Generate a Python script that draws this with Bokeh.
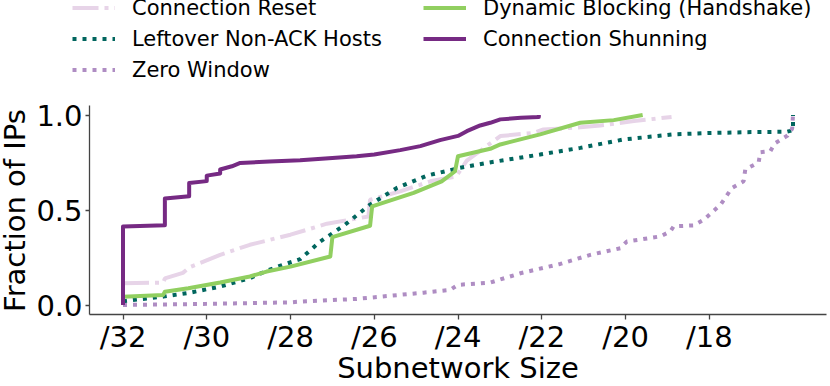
import math
from bokeh.plotting import figure
from bokeh.layouts import column, row
from bokeh.models import Range1d, FixedTicker, Legend, LegendItem, NumeralTickFormatter, Label
from bokeh.embed import file_html
from bokeh.resources import INLINE

# ---- data (x = prefix length, y = cumulative fraction of IPs) ----
reset_x = [32, 31.04, 31.0, 30.57, 30.4, 29.68, 28.97, 28.0, 27.13, 26.14, 26.1, 25.38, 24.66,
           24.35, 24.05, 23.79, 22.99, 22.2, 21.96, 21.08, 20.6, 19.8, 18.9]
reset_y = [0.115, 0.118, 0.14, 0.169, 0.2, 0.264, 0.317, 0.37, 0.428, 0.466, 0.554, 0.598, 0.651,
           0.665, 0.675, 0.76, 0.889, 0.906, 0.924, 0.935, 0.945, 0.968, 0.99]

nonack_x = [32, 31.04, 30.4, 29.68, 28.97, 28.57, 28.2, 27.77, 27.29, 26.7, 26.1, 25.46, 24.74,
            23.95, 23.31, 22.04, 21.08, 20.05, 18.86, 18.0, 17.0, 16.14, 16.0, 16.0]
nonack_y = [0.02, 0.044, 0.065, 0.097, 0.141, 0.18, 0.21, 0.241, 0.334, 0.422, 0.528, 0.616, 0.681,
            0.722, 0.748, 0.792, 0.827, 0.871, 0.898, 0.905, 0.91, 0.912, 0.92, 1.0]

zero_x = [32, 30.0, 28.0, 27.77, 26.42, 24.82, 24.19, 24.0, 23.23, 22.51, 21.56, 20.84, 20.12,
          19.97, 19.17, 18.93, 18.85, 18.37, 18.13, 17.73, 17.46, 17.18, 17.14, 16.82, 16.78,
          16.54, 16.44, 16.13, 16.02, 16.0]
zero_y = [0.0, 0.006, 0.014, 0.018, 0.032, 0.065, 0.079, 0.106, 0.118, 0.167, 0.216, 0.264, 0.299,
          0.334, 0.361, 0.387, 0.414, 0.419, 0.449, 0.528, 0.616, 0.651, 0.713, 0.751, 0.804,
          0.81, 0.85, 0.892, 0.928, 1.0]

dyn_x = [32, 31.04, 31.0, 30.44, 29.68, 28.97, 28.57, 28.0, 27.05, 27.0, 26.1, 26.05, 25.06,
         24.39, 24.07, 24.0, 23.23, 22.99, 22.04, 21.08, 20.28, 19.59]
dyn_y = [0.044, 0.053, 0.07, 0.088, 0.118, 0.15, 0.176, 0.202, 0.255, 0.357, 0.417, 0.519, 0.59,
         0.651, 0.704, 0.783, 0.822, 0.845, 0.898, 0.959, 0.973, 1.0]

shun_x = [32, 32, 31.0, 31.0, 30.42, 30.42, 30.0, 30.0, 29.68, 29.68, 29.4, 29.2, 28.5, 27.77,
          27.0, 26.42, 26.0, 25.38, 24.9, 24.43, 24.0, 23.79, 23.47, 23.23, 22.99, 22.5, 22.07, 22.07]
shun_y = [0.0, 0.413, 0.42, 0.56, 0.572, 0.642, 0.652, 0.681, 0.692, 0.713, 0.73, 0.748, 0.755,
          0.762, 0.774, 0.783, 0.792, 0.815, 0.836, 0.868, 0.89, 0.915, 0.945, 0.959, 0.977,
          0.985, 0.99, 1.0]

x_ticks = [32, 30, 28, 26, 24, 22, 20, 18]
x_tick_labels = ["/32", "/30", "/28", "/26", "/24", "/22", "/20", "/18"]
y_ticks = [0.0, 0.5, 1.0]

names = ["Connection Reset", "Leftover Non-ACK Hosts", "Zero Window",
         "Dynamic Blocking (Handshake)", "Connection Shunning"]
x_title = "Subnetwork Size"
y_title = "Fraction of IPs"

FONT = "DejaVu Sans"
styles = [
    dict(line_color="#e7d4e8", line_width=4, line_dash="26 6 4 6"),
    dict(line_color="#01665e", line_width=4, line_dash="4 6"),
    dict(line_color="#af8dc3", line_width=4, line_dash="4 6"),
    dict(line_color="#91cf60", line_width=4, line_join="round"),
    dict(line_color="#762a83", line_width=4, line_join="round"),
]
series = [(reset_x, reset_y), (nonack_x, nonack_y), (zero_x, zero_y), (dyn_x, dyn_y), (shun_x, shun_y)]

W, H = 830, 386
LEG_H = 95      # legend strip height
XL_H = 30       # x-title strip height
YL_W = 33       # y-title strip width
MAIN_H = H - LEG_H - XL_H


def blank(width, height):
    f = figure(width=width, height=height, output_backend="svg", toolbar_location=None,
               x_range=Range1d(0, 1), y_range=Range1d(0, 1),
               x_axis_location=None, y_axis_location=None,
               min_border_left=0, min_border_right=0, min_border_top=0, min_border_bottom=0)
    f.frame_align = False
    f.outline_line_color = None
    f.grid.visible = False
    return f


# ---------------- main chart ----------------
p = figure(width=W - YL_W, height=MAIN_H, output_backend="svg", toolbar_location=None,
           x_range=Range1d(32.8, 15.2), y_range=Range1d(-0.05, 1.05),
           min_border_left=89 - YL_W, min_border_right=4, min_border_top=105 - LEG_H,
           min_border_bottom=41)
p.outline_line_color = None
p.grid.visible = False

for (xs, ys), st in zip(series, styles):
    p.line(xs, ys, **st)

for ax in (p.xaxis[0], p.yaxis[0]):
    ax.axis_line_color = "#444444"
    ax.axis_line_width = 1.3
    ax.major_tick_line_color = "#444444"
    ax.major_tick_line_width = 1.3
    ax.major_tick_in = 0
    ax.minor_tick_line_color = None
    ax.major_label_text_font = FONT
    ax.major_label_text_font_size = "29px"
    ax.major_label_text_color = "black"

p.xaxis.ticker = FixedTicker(ticks=x_ticks)
p.xaxis.major_label_overrides = dict(zip(x_ticks, x_tick_labels))
p.xaxis.major_tick_out = 5
p.xaxis.major_label_standoff = 0

p.yaxis.ticker = FixedTicker(ticks=y_ticks)
p.yaxis.formatter = NumeralTickFormatter(format="0.0")
p.yaxis.major_tick_out = 4
p.yaxis.major_label_standoff = 3

# ---------------- y title strip ----------------
yl = blank(YL_W, MAIN_H)
yl.add_layout(Label(x=14, y=MAIN_H - (210 - LEG_H), x_units="screen", y_units="screen",
                    text=y_title, angle=math.pi / 2, text_align="center",
                    text_baseline="alphabetic", text_font=FONT, text_font_size="29px",
                    text_color="black"))

# ---------------- x title strip ----------------
xl = blank(W, XL_H)
xl.add_layout(Label(x=457.5, y=19, x_units="screen", y_units="screen", text=x_title,
                    text_align="center", text_baseline="alphabetic", text_font=FONT,
                    text_font_size="29px", text_color="black"))

# ---------------- legend strip (swatch renderers lie outside its ranges) ----------------
lf = blank(W, LEG_H)
swatches = [lf.line(xs, ys, **st) for (xs, ys), st in zip(series, styles)]


def make_legend(items, loc):
    lg = Legend(items=items, location=loc, orientation="vertical")
    lg.background_fill_alpha = 0
    lg.border_line_color = None
    lg.padding = 0
    lg.margin = 0
    lg.spacing = 6
    lg.glyph_width = 43
    lg.glyph_height = 25
    lg.label_height = 25
    lg.label_standoff = 17
    lg.label_text_font = FONT
    lg.label_text_font_size = "21px"
    lg.label_text_color = "black"
    lg.label_text_baseline = "middle"
    return lg


leg1 = make_legend([LegendItem(label=names[i], renderers=[swatches[i]]) for i in range(3)], (72, 13))
leg2 = make_legend([LegendItem(label=names[i], renderers=[swatches[i]]) for i in range(3, 5)], (423, 44))
lf.add_layout(leg1, "center")
lf.add_layout(leg2, "center")

layout = column(lf, row(yl, p, spacing=0), xl, spacing=0)

open("out.html", "w").write(file_html(layout, INLINE))
